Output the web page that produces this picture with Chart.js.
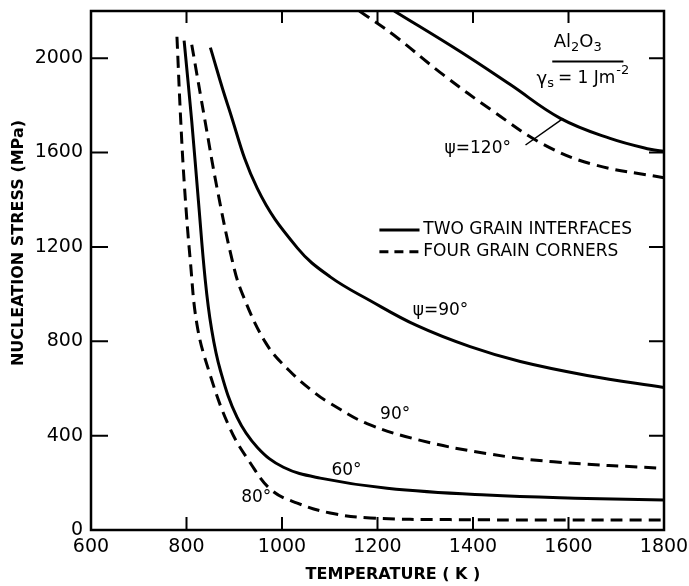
<!DOCTYPE html>
<html>
<head>
<meta charset="utf-8">
<script src="https://cdn.jsdelivr.net/npm/chart.js@4.4.1/dist/chart.umd.min.js"></script>
<style>
    html, body { margin: 0; padding: 0; background: #fff; }
</style>
</head>
<body>
<canvas id="chart" width="689" height="586"></canvas>
<script>
// Tick values on both axes
const xTicks = [600, 800, 1000, 1200, 1400, 1600, 1800];
const yTicks = [0, 400, 800, 1200, 1600, 2000];

// Two grain interfaces (solid)
const twoGrain120T = [1235, 1373, 1478, 1583, 1687, 1771, 1802];
const twoGrain120S = [2200, 2028, 1888, 1745, 1660, 1614, 1605];
const twoGrain90T = [850, 886, 948, 1032, 1101, 1185, 1283, 1394, 1499, 1639, 1800];
const twoGrain90S = [2045, 1804, 1449, 1196, 1073, 972, 866, 777, 714, 655, 604];
const twoGrain60T = [795, 811, 825, 839, 852, 871, 906, 948, 1003, 1080, 1220, 1429, 1639, 1800];
const twoGrain60S = [2074, 1732, 1394, 1065, 858, 676, 477, 351, 266, 220, 177, 148, 134, 127];

// Four grain corners (dashed)
const fourGrain120T = [1162, 1234, 1338, 1443, 1548, 1653, 1800];
const fourGrain120S = [2200, 2098, 1929, 1774, 1634, 1549, 1493];
const fourGrain90T = [811, 839, 864, 896, 917, 967, 1015, 1070, 1101, 1178, 1290, 1429, 1569, 1800];
const fourGrain90S = [2057, 1732, 1449, 1141, 1001, 790, 676, 579, 537, 451, 380, 324, 289, 261];
const fourGrain80T = [780, 788, 796, 808, 822, 846, 890, 934, 978, 1032, 1101, 1185, 1352, 1800];
const fourGrain80S = [2091, 1732, 1449, 1141, 870, 680, 435, 283, 169, 114, 72, 51, 44, 42];

const FONT = '"DejaVu Sans", sans-serif';

function pts(ts, ss) {
    return ts.map((t, i) => ({ x: t, y: ss[i] }));
}

function curve(ts, ss, dashed) {
    return {
        data: pts(ts, ss),
        showLine: true,
        borderColor: '#000',
        borderWidth: 3,
        borderDash: dashed ? [12, 7] : [],
        pointRadius: 0,
        tension: 0.4,
        fill: false
    };
}

// frame, inward ticks, titles, legend and curve labels
const decorPlugin = {
    id: 'decor',
    afterDatasetsDraw(chart) {
        const { ctx, chartArea: a, scales: { x, y } } = chart;
        const X = v => x.getPixelForValue(v);
        const Y = v => y.getPixelForValue(v);
        ctx.save();
        ctx.strokeStyle = '#000';
        ctx.fillStyle = '#000';
        ctx.lineWidth = 2.5;
        ctx.strokeRect(a.left, a.top, a.right - a.left, a.bottom - a.top);

        ctx.lineWidth = 2;
        ctx.beginPath();
        xTicks.forEach(v => {
            ctx.moveTo(X(v), a.bottom); ctx.lineTo(X(v), a.bottom - 13);
            ctx.moveTo(X(v), a.top); ctx.lineTo(X(v), a.top + 12);
        });
        yTicks.forEach(v => {
            ctx.moveTo(a.left, Y(v)); ctx.lineTo(a.left + 17, Y(v));
            ctx.moveTo(a.right, Y(v)); ctx.lineTo(a.right - 15, Y(v));
        });
        ctx.stroke();

        // axis titles
        ctx.font = 'bold 16px ' + FONT;
        ctx.textAlign = 'center';
        ctx.textBaseline = 'middle';
        ctx.fillText('TEMPERATURE ( K )', 393, 575);
        ctx.save();
        ctx.translate(19, 243);
        ctx.rotate(-Math.PI / 2);
        ctx.fillText('NUCLEATION STRESS (MPa)', 0, 0);
        ctx.restore();

        // curve labels
        ctx.font = '17px ' + FONT;
        ctx.fillText('\u03c8=90\u00b0', X(1332), Y(929));
        ctx.fillText('90\u00b0', X(1237), Y(490));
        ctx.fillText('60\u00b0', X(1135), Y(253));
        ctx.fillText('80\u00b0', X(946), Y(139));
        ctx.fillText('\u03c8=120\u00b0', X(1410), Y(1616));

        // leader to the 120 deg curves
        ctx.lineWidth = 1.5;
        ctx.beginPath();
        ctx.moveTo(X(1510), Y(1632));
        ctx.lineTo(X(1589), Y(1745));
        ctx.stroke();

        // material note
        ctx.textAlign = 'left';
        ctx.font = '18px ' + FONT;
        let cx = X(1569);
        const ay = Y(2068);
        ctx.fillText('Al', cx, ay); cx += ctx.measureText('Al').width;
        ctx.font = '13px ' + FONT;
        ctx.fillText('2', cx, ay + 5); cx += ctx.measureText('2').width;
        ctx.font = '18px ' + FONT;
        ctx.fillText('O', cx, ay); cx += ctx.measureText('O').width;
        ctx.font = '13px ' + FONT;
        ctx.fillText('3', cx, ay + 5);

        ctx.lineWidth = 2;
        ctx.beginPath();
        ctx.moveTo(X(1566), Y(1986));
        ctx.lineTo(X(1715), Y(1986));
        ctx.stroke();

        cx = X(1533);
        const gy = Y(1912);
        ctx.font = '18px ' + FONT;
        ctx.fillText('\u03b3', cx, gy); cx += ctx.measureText('\u03b3').width;
        ctx.font = '13px ' + FONT;
        ctx.fillText('s', cx, gy + 5); cx += ctx.measureText('s').width + 4;
        ctx.font = '17px ' + FONT;
        ctx.fillText('= 1 Jm', cx, gy); cx += ctx.measureText('= 1 Jm').width;
        ctx.font = '13px ' + FONT;
        ctx.fillText('-2', cx + 1, gy - 8);

        // legend
        ctx.lineWidth = 3;
        ctx.beginPath();
        ctx.moveTo(X(1204), Y(1272)); ctx.lineTo(X(1288), Y(1272));
        ctx.stroke();
        ctx.setLineDash([9, 6]);
        ctx.beginPath();
        ctx.moveTo(X(1204), Y(1179)); ctx.lineTo(X(1290), Y(1179));
        ctx.stroke();
        ctx.setLineDash([]);
        ctx.font = '17px ' + FONT;
        ctx.fillText('TWO GRAIN INTERFACES', X(1296), Y(1272));
        ctx.fillText('FOUR GRAIN CORNERS', X(1296), Y(1179));
        ctx.restore();
    }
};

new Chart(document.getElementById('chart'), {
    type: 'scatter',
    data: {
        datasets: [
            curve(twoGrain120T, twoGrain120S, false),
            curve(twoGrain90T, twoGrain90S, false),
            curve(twoGrain60T, twoGrain60S, false),
            curve(fourGrain120T, fourGrain120S, true),
            curve(fourGrain90T, fourGrain90S, true),
            curve(fourGrain80T, fourGrain80S, true)
        ]
    },
    options: {
        responsive: false,
        animation: false,
        devicePixelRatio: 1,
        layout: { padding: { top: 11, right: 25, left: 0, bottom: 0 } },
        plugins: {
            legend: { display: false },
            tooltip: { enabled: false }
        },
        scales: {
            x: {
                type: 'linear',
                min: 600,
                max: 1800,
                afterBuildTicks: s => { s.ticks = xTicks.map(v => ({ value: v })); },
                afterFit: s => { s.height = 56; s.paddingLeft = 0; s.paddingRight = 0; },
                grid: { display: false, drawTicks: false },
                border: { display: false },
                ticks: {
                    color: '#000', padding: 6, maxRotation: 0,
                    font: { family: FONT, size: 19 },
                    callback: v => String(v)
                }
            },
            y: {
                type: 'linear',
                min: 0,
                max: 2200,
                afterBuildTicks: s => { s.ticks = yTicks.map(v => ({ value: v })); },
                afterFit: s => { s.width = 91; s.paddingTop = 0; s.paddingBottom = 0; },
                grid: { display: false, drawTicks: false },
                border: { display: false },
                ticks: {
                    color: '#000', padding: 8,
                    font: { family: FONT, size: 19 },
                    callback: v => String(v)
                }
            }
        }
    },
    plugins: [decorPlugin]
});
</script>
</body>
</html>
